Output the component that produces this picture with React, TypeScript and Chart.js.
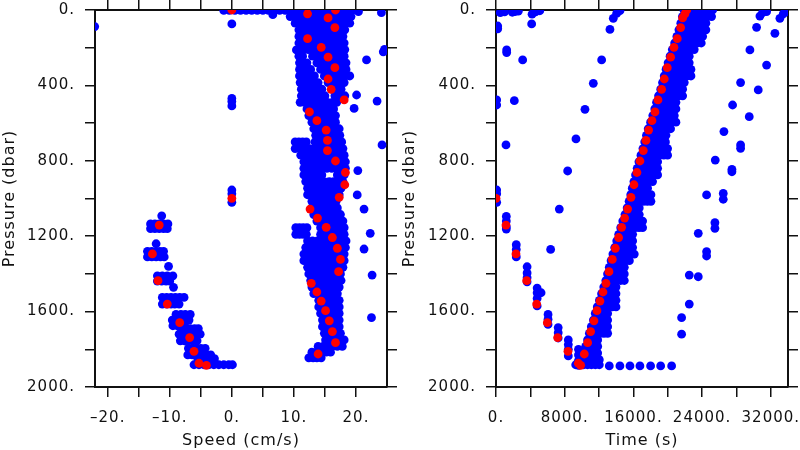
import React, { useEffect, useRef } from 'react';
import { Chart, registerables } from 'chart.js';

Chart.register(...registerables);

// ---------- axis ticks ----------
const pressureTickValues = [0, 200, 400, 600, 800, 1000, 1200, 1400, 1600, 1800, 2000];
const pressureTickLabels = ['0.', '', '400.', '', '800.', '', '1200.', '', '1600.', '', '2000.'];
const speedTickValues = [-20, -15, -10, -5, 0, 5, 10, 15, 20];
const speedTickLabels = ['\u201320.', '', '\u201310.', '', '0.', '', '10.', '', '20.'];
const timeTickValues = [0, 4000, 8000, 12000, 16000, 20000, 24000, 28000, 32000];
const timeTickLabels = ['0.', '', '8000.', '', '16000.', '', '24000.', '', '32000.'];

// ---------- red (sub-sampled) profile points ----------
const redPressure = [999, 1141, 1294, 1436, 1560, 1659, 1738, 1811, 1874, 1885,
  1825, 1765, 1706, 1649, 1595, 1544, 1496, 1450, 1388, 1323,
  1264, 1207, 1153, 1104, 1056, 994, 927, 862, 801, 746,
  692, 637, 587, 541, 477, 421, 366, 306, 250, 198,
  152, 93, 42, 20, 0, 0];
const redSpeed = [0, -11.7, -12.8, -11.9, -10.4, -8.4, -6.8, -6.1, -5.3, -4.1,
  13.9, 16.7, 16.2, 15.7, 15.1, 14.4, 13.7, 12.8, 17.2, 17.5,
  17.0, 16.2, 15.2, 13.8, 12.6, 17.3, 18.2, 18.3, 16.7, 15.4,
  15.4, 15.2, 13.7, 12.5, 18.1, 16.0, 15.5, 16.6, 15.5, 14.4,
  12.2, 16.6, 15.5, 12.2, 16.7, 0];
const redTime = [0, 1164, 2328, 3570, 4734, 5975, 7178, 8381, 9584, 9855,
  10282, 10670, 11019, 11407, 11756, 12106, 12455, 12804, 13153, 13541,
  13890, 14278, 14628, 14977, 15326, 15714, 16063, 16412, 16762, 17150,
  17460, 17770, 18158, 18508, 18857, 19284, 19594, 19943, 20331, 20719,
  21107, 21495, 21728, 22000, 22194, 22194];

// ---------- blue speed samples: rows of [pressure, speed...] ----------
const speedAscentUpper = [
  [2, -1.3, -0.4, 0.5, 1.4, 2.3, 3.2, 4.1, 5.0, 5.9, 6.8, 7.7, 8.6, 9.5, 10.4, 11.3, 12.2, 13.1, 14.0, 14.9, 15.8, 16.7, 17.6, 18.5, 19.4],
  [35, 9.4, 10.2, 10.9, 11.7, 12.4, 13.2, 13.9, 14.7, 15.4, 16.2, 16.9, 17.7, 18.4, 19.2],
  [70, 10.2, 11.0, 11.8, 12.6, 13.4, 14.2, 15.0, 15.8, 16.6, 17.4, 18.2, 19.0],
  [105, 10.8, 11.5, 12.3, 13.0, 13.8, 14.5, 15.2, 16.0, 16.7, 17.5, 18.2],
  [140, 10.8, 11.6, 12.4, 13.2, 14.0, 14.7, 15.5, 16.3, 17.1, 17.9],
  [175, 10.8, 11.5, 12.3, 13.0, 13.7, 14.5, 15.2, 15.9, 16.6, 17.4, 18.1],
  [210, 10.8, 11.5, 12.3, 13.0, 13.8, 14.5, 15.2, 16.0, 16.7, 17.5, 18.2],
  [245, 10.8, 11.4, 13.0, 13.7, 14.5, 15.2, 15.9, 16.6, 17.4, 18.1],
  [280, 10.9, 11.5, 12.1, 13.7, 14.5, 15.3, 16.1, 16.8, 17.6, 18.4],
  [315, 10.9, 11.5, 12.1, 12.7, 14.3, 15.0, 15.7, 16.4, 17.0, 17.7, 18.4],
  [350, 10.9, 11.7, 12.5, 13.3, 14.9, 15.6, 16.3, 17.0, 17.6, 18.3, 19.0],
  [385, 11.0, 11.7, 12.5, 13.2, 13.9, 15.5, 16.2, 16.8, 17.5, 18.1],
  [420, 11.2, 11.9, 12.5, 13.2, 13.8, 14.5, 16.1, 16.9, 17.6],
  [455, 11.2, 12.0, 12.7, 13.5, 14.2, 15.0, 16.6, 17.4, 18.2],
  [490, 11.0, 11.7, 12.5, 13.2, 14.0, 14.7, 15.4, 16.2, 16.9],
  [525, 12.1, 12.8, 13.5, 14.3, 15.0, 15.7, 16.4],
  [560, 12.4, 13.1, 13.8, 14.6, 15.3, 16.0, 16.7],
  [595, 12.9, 13.7, 14.4, 15.2, 15.9, 16.7],
  [630, 13.2, 13.9, 14.6, 15.3, 15.9, 16.6, 17.3],
  [665, 13.5, 14.3, 15.1, 15.8, 16.6, 17.4],
  [700, 10.2, 10.8, 11.4, 12.0, 13.4, 14.1, 14.8, 15.5, 16.3, 17.0, 17.7],
  [735, 10.2, 11.0, 11.7, 12.5, 13.3, 14.1, 14.8, 15.6, 16.4, 17.1, 17.9],
  [770, 11.1, 11.9, 12.7, 13.4, 14.2, 15.0, 15.8, 16.5, 17.3, 18.1],
  [805, 11.6, 12.3, 13.1, 13.8, 14.6, 15.3, 16.1, 16.8, 17.6, 18.3],
  [840, 11.6, 12.3, 13.1, 13.8, 14.6, 15.3, 16.1, 16.8, 17.6, 18.3],
  [875, 11.6, 12.3, 13.1, 13.8, 14.5, 17.0, 17.6, 18.1],
  [910, 11.9, 12.7, 13.4, 14.2, 14.9, 15.7, 16.4, 17.2, 17.9],
  [945, 12.2, 13.0, 13.7, 14.5, 15.3, 16.1, 16.8, 17.6],
  [980, 12.2, 12.9, 13.7, 14.4, 15.1, 15.8, 16.6, 17.3],
];
const speedAscentLower = [
  [1015, 12.9, 13.7, 14.5, 15.2, 16.0, 16.8],
  [1050, 12.9, 13.6, 14.3, 15.0, 15.6, 16.3, 17.0],
  [1085, 13.2, 13.9, 14.6, 15.4, 16.1, 16.8, 17.5],
  [1120, 13.7, 14.4, 15.1, 15.8, 16.5, 17.2, 17.9],
  [1155, 10.3, 10.9, 11.5, 12.1, 14.3, 15.1, 15.8, 16.6, 17.3, 18.1],
  [1190, 10.3, 10.9, 11.5, 12.0, 14.3, 15.1, 15.8, 16.6, 17.3, 18.1],
  [1225, 12.2, 13.0, 13.8, 14.5, 15.3, 16.1, 16.9, 17.6, 18.4],
  [1260, 11.9, 12.7, 13.5, 14.3, 15.1, 15.9, 16.7, 17.5, 18.3],
  [1295, 11.6, 12.3, 13.0, 13.8, 14.5, 15.2, 15.9, 16.7, 17.4, 18.1],
  [1330, 11.6, 12.3, 13.0, 13.8, 14.5, 15.2, 15.9, 16.7, 17.4, 18.1],
  [1365, 12.2, 12.9, 13.6, 14.3, 15.0, 15.8, 16.5, 17.2, 17.9],
  [1400, 12.4, 13.1, 13.9, 14.6, 15.3, 16.0, 16.8, 17.5],
  [1435, 12.7, 13.4, 14.1, 14.8, 15.5, 16.2, 16.9, 17.6],
  [1470, 12.9, 13.6, 14.4, 15.1, 15.8, 16.6, 17.3],
  [1505, 13.2, 14.0, 14.7, 15.5, 16.2, 17.0],
  [1540, 14.0, 14.7, 15.3, 16.0, 16.6, 17.3],
  [1575, 14.0, 14.7, 15.3, 16.0, 16.6, 17.3],
  [1610, 14.3, 15.1, 15.8, 16.6, 17.3],
  [1645, 14.6, 15.3, 15.9, 16.6, 17.3],
  [1680, 14.6, 15.3, 15.9, 16.6, 17.3],
  [1715, 14.9, 15.6, 16.2, 16.9, 17.5],
  [1750, 15.1, 15.9, 16.6, 17.4, 18.1],
  [1785, 13.9, 14.7, 15.5, 16.2, 17.0, 17.8],
  [1815, 12.9, 13.7, 14.4, 15.2, 15.9],
  [1845, 12.4, 13.1, 13.7, 14.4],
];
const speedDescent = [
  [1092, -11.3],
  [1135, -13.1, -12.4, -11.7, -11.0, -10.3],
  [1160, -13.1, -12.4, -11.7, -11.0, -10.4],
  [1240, -12.2],
  [1280, -13.6, -12.9, -12.2, -11.6, -11.0],
  [1310, -13.6, -12.9, -12.2, -11.5, -10.9],
  [1360, -10.2],
  [1410, -12.0, -11.2, -10.4, -9.5],
  [1438, -12.0, -11.3, -10.6, -10.0],
  [1471, -9.4],
  [1525, -11.2, -10.5, -9.8, -9.1, -8.4, -7.7],
  [1560, -11.2, -10.5, -9.8, -9.2, -8.5],
  [1615, -9.0, -8.2, -7.5, -6.7],
  [1645, -9.6, -8.9, -8.3, -7.6, -6.9],
  [1675, -9.5, -8.8, -8.2, -7.6],
  [1690, -8.0, -7.3, -6.7, -6.0, -5.4],
  [1720, -8.5, -7.8, -7.2, -6.5, -5.8, -5.1],
  [1755, -8.3, -7.6, -7.0, -6.3, -5.6],
  [1795, -7.0, -6.3, -5.7, -5.0, -4.3],
  [1830, -7.1, -6.4, -5.6, -4.9, -4.1, -3.4],
  [1850, -5.5, -4.8, -4.2, -3.5, -2.8],
  [1882, -6.1, -5.3, -4.5, -3.7, -2.9, -2.1, -1.3, -0.5, 0.1],
];
const speedStrayX = [-22.1, 0, 0, 0, 0, 0, 0, 0, 6.6, 10.4, 20.4, 24.1, 24.6, 24.4, 21.7, 20.1, 23.4, 19.7, 24.2, 20.3, 20.2, 21.3, 22.3, 21.3, 22.6, 22.5];
const speedStrayP = [88, 74, 469, 486, 509, 955, 975, 1020, 25, 212, 9, 14, 209, 222, 265, 451, 483, 522, 716, 852, 981, 1056, 1185, 1268, 1406, 1632];

// ---------- blue time samples ----------
// ascent band: [pressure, time...]
const timeAscentBand = [
  [0, 21880, 22360, 22840, 23320, 23790, 24270, 24750, 25230],
  [35, 21700, 22190, 22670, 23160, 23640, 24130, 24610, 25100],
  [70, 21520, 22010, 22490, 22980, 23470, 23950, 24440],
  [105, 21300, 21750, 22200, 22650, 23090, 23540, 23990, 24440],
  [140, 21060, 21560, 22060, 22560, 23060, 23560, 24060],
  [175, 20800, 21240, 21690, 22130, 22570, 23010, 23460, 23900],
  [210, 20530, 20960, 21380, 21810, 22230, 22660, 23080],
  [245, 20270, 20720, 21160, 21610, 22050, 22500],
  [280, 20040, 20530, 21020, 21520, 22010, 22500],
  [315, 19800, 20280, 20770, 21250, 21730, 22220, 22700],
  [350, 19590, 20030, 20480, 20920, 21370, 21810, 22260, 22700],
  [385, 19390, 19810, 20230, 20660, 21080, 21500, 21920],
  [420, 19180, 19610, 20030, 20460, 20880, 21310, 21730],
  [455, 18930, 19400, 19860, 20330, 20800, 21260, 21730],
  [490, 18690, 19140, 19590, 20050, 20500, 20950],
  [525, 18490, 18980, 19470, 19970, 20460, 20950],
  [560, 18260, 18760, 19260, 19760, 20260, 20760],
  [595, 18000, 18490, 18980, 19480, 19970, 20460, 20950],
  [630, 17720, 18160, 18590, 19030, 19460, 19900, 20330],
  [665, 17520, 17970, 18430, 18880, 19340, 19790],
  [700, 17320, 17800, 18280, 18770, 19250, 19730],
  [735, 17110, 17590, 18070, 18550, 19020, 19500, 19980],
  [770, 16880, 17320, 17770, 18210, 18650, 19090, 19540, 19980],
  [805, 16640, 17080, 17510, 17950, 18380, 18820],
  [840, 16440, 16920, 17390, 17870, 18340, 18820],
  [875, 16250, 16680, 17110, 17540, 17960, 18390, 18820],
  [910, 16060, 16490, 16930, 17360, 17800, 18230],
  [945, 15870, 16320, 16760, 17210, 17650],
  [980, 15690, 16160, 16630, 17100, 17570, 18040],
  [1015, 15500, 15920, 16350, 16770, 17190, 17620, 18040],
  [1050, 15270, 15740, 16210, 16680],
  [1085, 15020, 15440, 15850, 16270, 16680],
  [1120, 14760, 15220, 15680, 16150, 16610, 17070],
  [1155, 14520, 14950, 15370, 15800, 16220, 16650, 17070],
  [1190, 14290, 14700, 15100, 15510, 15910],
  [1225, 14060, 14520, 14990, 15450, 15910],
  [1260, 13820, 14240, 14660, 15070, 15490, 15910],
  [1295, 13610, 14110, 14610, 15100, 15600, 16100],
  [1330, 13400, 13830, 14250, 14680, 15100, 15530],
  [1365, 13190, 13630, 14070, 14500, 14940],
  [1400, 12990, 13480, 13960, 14450, 14940],
  [1435, 12790, 13220, 13650, 14080, 14510, 14940],
  [1470, 12550, 13020, 13500, 13970],
  [1505, 12290, 12710, 13130, 13550, 13970],
  [1540, 12040, 12520, 13010, 13490, 13970],
  [1575, 11790, 12230, 12660, 13100, 13530, 13970],
  [1610, 11560, 12040, 12520, 13000],
  [1645, 11340, 11760, 12170, 12590, 13000],
  [1680, 11100, 11580, 12050, 12530, 13000],
  [1715, 10870, 11300, 11720, 12150, 12570, 13000],
  [1750, 10660, 11050, 11450, 11840],
  [1785, 10440, 10910, 11370, 11840],
  [1820, 10220, 10630, 11030, 11440, 11840],
  [1855, 9980, 10390, 10800, 11210, 11620, 12030],
  [1882, 9280, 9740, 10200, 10660, 11110, 11570, 12030],
  [1888, 13190, 14430, 15600, 16760, 18000, 19170, 20450],
];
// descent stations: [time, pressure...]
const timeDescentStations = [
  [80, 955, 975, 1020],
  [1200, 1095, 1120, 1150, 1162],
  [2360, 1245, 1270, 1310],
  [3620, 1362, 1395, 1420, 1442],
  [4790, 1475, 1500, 1530, 1570],
  [5250, 1500],
  [6060, 1615, 1640, 1668],
  [7240, 1685, 1712, 1740],
  [8420, 1750, 1775, 1800, 1835],
  [9600, 1800, 1830, 1860, 1885],
];
const timeStrayT = [200, 200, 500, 1000, 1900, 2250, 2600, 4200, 4600, 5100,
  1242, 1242, 3104, 4152, 78, 78, 2134, 1164,
  6363, 7372, 8342, 9312, 10360, 11330, 12300, 13270, 13658, 14046, 14434,
  21612, 21612, 22504, 22504, 23552, 23552, 24522, 24522, 24522, 25491,
  25491, 25530, 26462, 26462, 26539, 27470, 27470, 27548, 28480, 28480,
  28480, 29488, 29566, 30536, 30342, 30730, 31040, 31506, 31506, 32476,
  33058, 33446, 33834];
const timeStrayP = [85, 100, 14, 10, 12, 8, 6, 22, 10, 4,
  212, 226, 265, 74, 477, 504, 481, 716,
  1270, 1056, 854, 684, 527, 389, 265, 103, 44, 18, 4,
  1720, 1632, 1560, 1406, 1415, 1185, 1282, 1305, 981, 1128,
  1158, 796, 973, 1004, 645, 845, 858, 504, 716, 734,
  385, 566, 212, 424, 92, 32, 14, 292, 9, 124,
  44, 21, 9];

// ---------- helpers ----------
type Pt = { x: number; y: number };
const zip = (xs: number[], ys: number[]): Pt[] => xs.map((x, i) => ({ x, y: ys[i] }));
const fromRows = (rows: number[][]): Pt[] => rows.flatMap(([p, ...xs]) => xs.map((x) => ({ x, y: p })));
const fromCols = (cols: number[][]): Pt[] => cols.flatMap(([x, ...ps]) => ps.map((p) => ({ x, y: p })));

const INK = '#111111';
const FONT = "'DejaVu Sans', 'Liberation Sans', sans-serif";
const DOT = 4.4;

const letterSpacingPlugin = {
  id: 'letterSpacing',
  beforeDraw(chart: any) {
    chart.ctx.letterSpacing = '1px';
  },
  afterDraw(chart: any) {
    chart.ctx.letterSpacing = '0px';
  },
};

const fixSize = (size: number, horizontal: boolean) => (scale: any) => {
  if (horizontal) scale.height = size;
  else scale.width = size;
  scale.paddingLeft = 0;
  scale.paddingRight = 0;
  scale.paddingTop = 0;
  scale.paddingBottom = 0;
};
const setTicks = (values: number[]) => (scale: any) => {
  scale.ticks = values.map((value) => ({ value }));
};
const labelFor = (values: number[], labels: string[]) => (v: any) => {
  const i = values.indexOf(Number(v));
  return i >= 0 ? labels[i] : '';
};

const grid = {
  display: true,
  drawOnChartArea: false,
  drawTicks: true,
  tickLength: 10,
  color: INK,
  tickColor: INK,
  lineWidth: 1.5,
  tickWidth: 1.5,
};
const border = { display: true, color: INK, width: 2 };

function buildConfig(o: {
  red: Pt[];
  blue: Pt[];
  xMin: number;
  xMax: number;
  xTicks: number[];
  xLabels: string[];
  xTitle: string;
  leftW: number;
  rightW: number;
}): any {
  const point = {
    pointRadius: DOT,
    pointHoverRadius: DOT,
    pointBorderWidth: 0,
    borderWidth: 0,
    pointStyle: 'circle',
    clip: 0,
  };
  return {
    type: 'scatter',
    data: {
      datasets: [
        { ...point, data: o.red, backgroundColor: '#ff0000', pointBackgroundColor: '#ff0000', order: 0 },
        { ...point, data: o.blue, backgroundColor: '#0000ff', pointBackgroundColor: '#0000ff', order: 1 },
      ],
    },
    options: {
      animation: false,
      responsive: false,
      maintainAspectRatio: false,
      devicePixelRatio: 1,
      events: [],
      elements: { point: { radius: DOT, hoverRadius: DOT, borderWidth: 0, pointStyle: 'circle' } },
      layout: { padding: 0, autoPadding: false },
      plugins: { legend: { display: false }, tooltip: { enabled: false }, title: { display: false } },
      scales: {
        x: {
          type: 'linear',
          position: 'bottom',
          bounds: 'data',
          min: o.xMin,
          max: o.xMax,
          afterBuildTicks: setTicks(o.xTicks),
          afterFit: fixSize(63, true),
          ticks: {
            autoSkip: false,
            maxRotation: 0,
            minRotation: 0,
            padding: 12,
            color: INK,
            font: { family: FONT, size: 15 },
            callback: labelFor(o.xTicks, o.xLabels),
          },
          grid,
          border,
          title: { display: true, text: o.xTitle, color: INK, font: { family: FONT, size: 16 }, padding: { top: 0, bottom: 0 } },
        },
        x2: {
          type: 'linear',
          position: 'top',
          bounds: 'data',
          min: o.xMin,
          max: o.xMax,
          afterBuildTicks: setTicks(o.xTicks),
          afterFit: fixSize(10, true),
          ticks: { display: false },
          grid,
          border,
        },
        y: {
          type: 'linear',
          position: 'left',
          reverse: true,
          bounds: 'data',
          min: 0,
          max: 2000,
          afterBuildTicks: setTicks(pressureTickValues),
          afterFit: fixSize(o.leftW, false),
          ticks: {
            autoSkip: false,
            padding: 10,
            color: INK,
            font: { family: FONT, size: 15 },
            callback: labelFor(pressureTickValues, pressureTickLabels),
          },
          grid,
          border,
          title: { display: true, text: 'Pressure (dbar)', color: INK, font: { family: FONT, size: 16 }, padding: { top: 0, bottom: 0 } },
        },
        y2: {
          type: 'linear',
          position: 'right',
          reverse: true,
          bounds: 'data',
          min: 0,
          max: 2000,
          afterBuildTicks: setTicks(pressureTickValues),
          afterFit: fixSize(o.rightW, false),
          ticks: { display: false },
          grid,
          border,
        },
      },
    },
    plugins: [letterSpacingPlugin],
  };
}

export default function App() {
  const leftRef = useRef<HTMLCanvasElement | null>(null);
  const rightRef = useRef<HTMLCanvasElement | null>(null);

  useEffect(() => {
    Chart.defaults.font.family = FONT;
    const speedBlue = [
      ...fromRows(speedAscentUpper),
      ...fromRows(speedAscentLower),
      ...fromRows(speedDescent),
      ...zip(speedStrayX, speedStrayP),
    ];
    const timeBlue = [
      ...fromRows(timeAscentBand),
      ...fromCols(timeDescentStations),
      ...zip(timeStrayT, timeStrayP),
    ];
    const left = new Chart(
      leftRef.current as HTMLCanvasElement,
      buildConfig({
        red: zip(redSpeed, redPressure),
        blue: speedBlue,
        xMin: -22.05,
        xMax: 25,
        xTicks: speedTickValues,
        xLabels: speedTickLabels,
        xTitle: 'Speed (cm/s)',
        leftW: 95,
        rightW: 13,
      })
    );
    const right = new Chart(
      rightRef.current as HTMLCanvasElement,
      buildConfig({
        red: zip(redTime, redPressure),
        blue: timeBlue,
        xMin: 0,
        xMax: 34000,
        xTicks: timeTickValues,
        xLabels: timeTickLabels,
        xTitle: 'Time (s)',
        leftW: 96,
        rightW: 12,
      })
    );
    return () => {
      left.destroy();
      right.destroy();
    };
  }, []);

  return (
    <div style={{ position: 'absolute', left: 0, top: 0, width: 800, height: 450, background: '#ffffff' }}>
      <canvas ref={leftRef} width={400} height={450} style={{ position: 'absolute', left: 0, top: 0, width: 400, height: 450 }} />
      <canvas ref={rightRef} width={400} height={450} style={{ position: 'absolute', left: 400, top: 0, width: 400, height: 450 }} />
    </div>
  );
}
